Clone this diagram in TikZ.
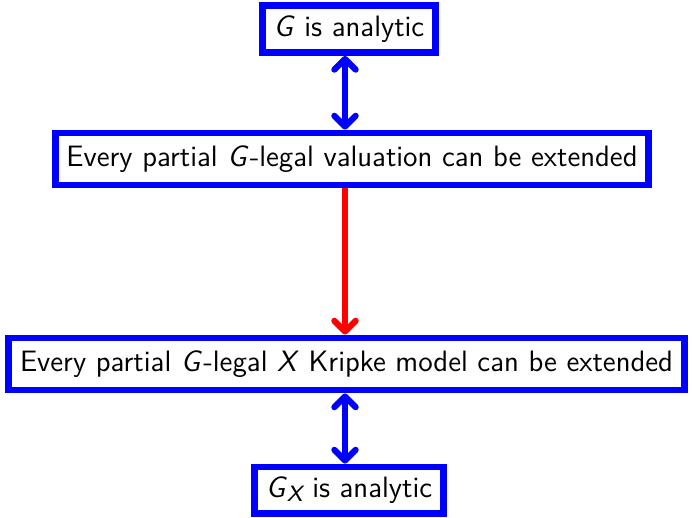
\documentclass[tikz,border=0pt]{standalone}
\usepackage{fontspec}
\setsansfont{Latin Modern Sans}
\usetikzlibrary{arrows.meta}
\newcommand{\mi}[1]{\textit{#1}}
\newcommand{\subx}[1]{\raisebox{-0.3ex}{\fontsize{8.3}{9}\selectfont\itshape #1}}
\begin{document}
\begin{tikzpicture}[x=0.375pt,y=-0.375pt,
  box/.style={draw=blue,line width=2.6pt,fill=white,inner xsep=4.2pt,inner ysep=0pt,
    minimum height=#1,font=\sffamily\fontsize{11.05}{12}\selectfont,text=black},
  link/.style={line width=2.3pt,{Straight Barb[length=4pt,width=8pt,line cap=round,round]}-{Straight Barb[length=4pt,width=8pt,line cap=round,round]}},
  one/.style={line width=2.3pt,-{Straight Barb[length=4pt,width=8pt,line cap=round,round]}}]
\useasboundingbox (0,0) rectangle (692,518);
\node[box=17.6pt] (a) at (349,29) {\mi{G} is analytic};
\node[box=19.5pt] (b) at (352,159) {Every partial \mi{G}\hspace{0.5pt}-legal valuation can be extended};
\node[box=19.5pt] (c) at (346.5,364) {Every partial \mi{G}\hspace{0.5pt}-legal \mi{X} Kripke model can be extended};
\node[box=17.6pt] (d) at (349,490.5) {\mi{G}\subx{X} is analytic};
\draw[link,blue] (a.south -| 345,0) -- (b.north -| 345,0);
\draw[one,red] (b.south -| 345,0) -- (c.north -| 345,0);
\draw[link,blue] (c.south -| 345,0) -- (d.north -| 345,0);
\end{tikzpicture}
\end{document}
